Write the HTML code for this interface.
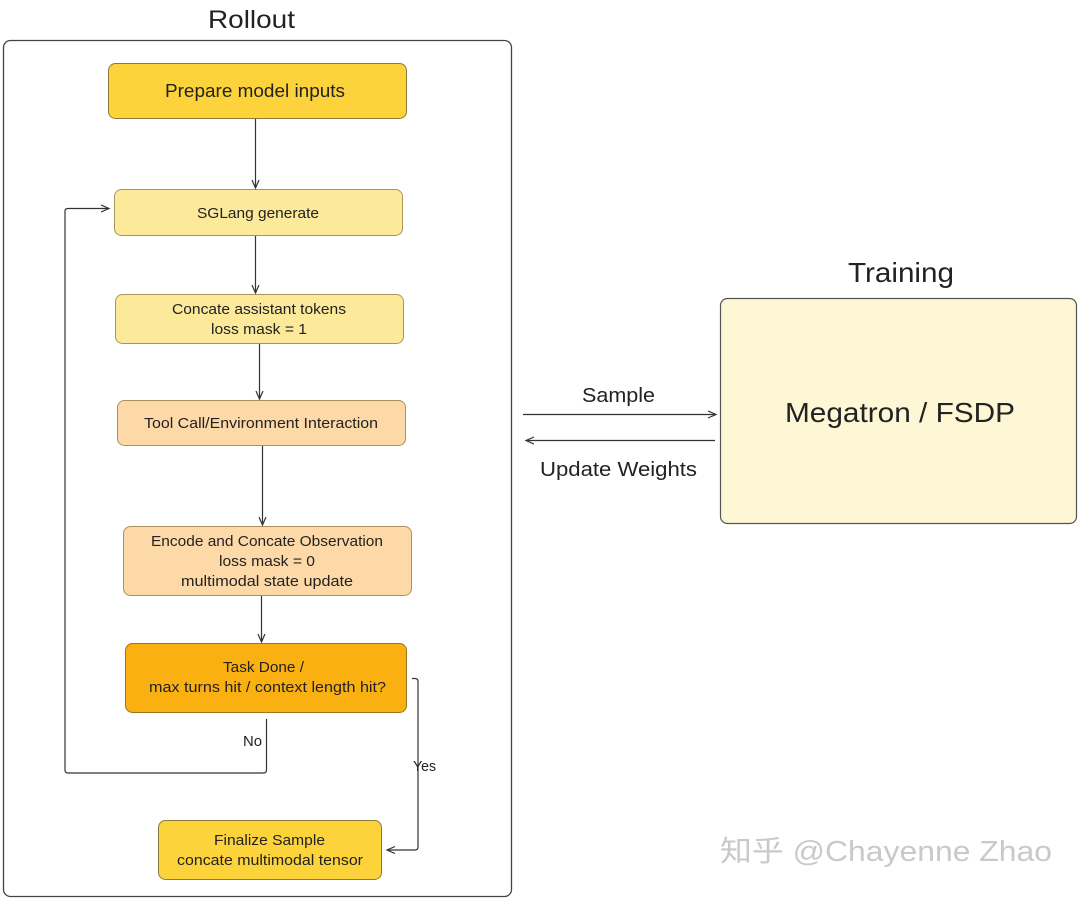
<!DOCTYPE html>
<html>
<head>
<meta charset="utf-8">
<style>
html,body{margin:0;padding:0;background:#fff;}
svg{display:block;}
text{font-family:"Liberation Sans","Noto Sans CJK SC",sans-serif;fill:#222;}
</style>
</head>
<body>
<svg width="1080" height="900" viewBox="0 0 1080 900" xmlns="http://www.w3.org/2000/svg">
<defs>
<marker id="ah" markerWidth="10" markerHeight="10" refX="8" refY="4" orient="auto" markerUnits="userSpaceOnUse">
<path d="M0,0.5 L8,4 L0,7.5" fill="none" stroke="#333" stroke-width="1.2"/>
</marker>
</defs>

<!-- Rollout -->
<text x="208" y="28" font-size="25" textLength="87" lengthAdjust="spacingAndGlyphs">Rollout</text>
<rect x="3.5" y="40.5" width="508" height="856" rx="7" fill="none" stroke="#444" stroke-width="1.3"/>

<!-- boxes -->
<rect x="108.5" y="63.5" width="298" height="55" rx="7" fill="#fdd33b" stroke="#8c7a3a" stroke-width="1"/>
<text x="165" y="97" font-size="18" textLength="180" lengthAdjust="spacingAndGlyphs">Prepare model inputs</text>

<rect x="114.5" y="189.5" width="288" height="46" rx="7" fill="#fde99a" stroke="#a8955a" stroke-width="1"/>
<text x="197" y="218" font-size="15" textLength="122" lengthAdjust="spacingAndGlyphs">SGLang generate</text>

<rect x="115.5" y="294.5" width="288" height="49" rx="7" fill="#fde99a" stroke="#a8955a" stroke-width="1"/>
<text x="172" y="314" font-size="15" textLength="174" lengthAdjust="spacingAndGlyphs">Concate assistant tokens</text>
<text x="211" y="334" font-size="15" textLength="96" lengthAdjust="spacingAndGlyphs">loss mask = 1</text>

<rect x="117.5" y="400.5" width="288" height="45" rx="7" fill="#fdd9a8" stroke="#a8915f" stroke-width="1"/>
<text x="144" y="428" font-size="15" textLength="234" lengthAdjust="spacingAndGlyphs">Tool Call/Environment Interaction</text>

<rect x="123.5" y="526.5" width="288" height="69" rx="7" fill="#fdd9a8" stroke="#a8915f" stroke-width="1"/>
<text x="151" y="546" font-size="15" textLength="232" lengthAdjust="spacingAndGlyphs">Encode and Concate Observation</text>
<text x="219" y="566" font-size="15" textLength="96" lengthAdjust="spacingAndGlyphs">loss mask = 0</text>
<text x="181" y="586" font-size="15" textLength="172" lengthAdjust="spacingAndGlyphs">multimodal state update</text>

<rect x="125.5" y="643.5" width="281" height="69" rx="7" fill="#fab010" stroke="#9a7420" stroke-width="1"/>
<text x="223" y="672" font-size="15" textLength="81" lengthAdjust="spacingAndGlyphs">Task Done /</text>
<text x="149" y="692" font-size="15" textLength="237" lengthAdjust="spacingAndGlyphs">max turns hit / context length hit?</text>

<rect x="158.5" y="820.5" width="223" height="59" rx="7" fill="#fdd33b" stroke="#8c7a3a" stroke-width="1"/>
<text x="214" y="845" font-size="15" textLength="111" lengthAdjust="spacingAndGlyphs">Finalize Sample</text>
<text x="177" y="865" font-size="15" textLength="186" lengthAdjust="spacingAndGlyphs">concate multimodal tensor</text>

<!-- connectors -->
<g stroke="#333" stroke-width="1.2" fill="none">
<line x1="255.5" y1="119" x2="255.5" y2="188" marker-end="url(#ah)"/>
<line x1="255.5" y1="236" x2="255.5" y2="293" marker-end="url(#ah)"/>
<line x1="259.5" y1="344" x2="259.5" y2="399" marker-end="url(#ah)"/>
<line x1="262.5" y1="446" x2="262.5" y2="525" marker-end="url(#ah)"/>
<line x1="261.5" y1="596" x2="261.5" y2="642" marker-end="url(#ah)"/>
<path d="M266.5,719 V770 Q266.5,773 263.5,773 H68 Q65,773 65,770 V211.5 Q65,208.5 68,208.5 H109" marker-end="url(#ah)"/>
<path d="M412,678.5 H415 Q418,678.5 418,681.5 V847 Q418,850 415,850 H387" marker-end="url(#ah)"/>
<line x1="523" y1="414.5" x2="716" y2="414.5" marker-end="url(#ah)"/>
<line x1="715" y1="440.5" x2="526" y2="440.5" marker-end="url(#ah)"/>
</g>
<text x="243" y="746" font-size="15" textLength="19" lengthAdjust="spacingAndGlyphs">No</text>
<text x="413" y="771" font-size="15" textLength="23" lengthAdjust="spacingAndGlyphs">Yes</text>

<!-- Training -->
<text x="848" y="282" font-size="28" textLength="106" lengthAdjust="spacingAndGlyphs">Training</text>
<rect x="720.5" y="298.5" width="356" height="225" rx="7" fill="#fdf7d6" stroke="#555" stroke-width="1.2"/>
<text x="785" y="422" font-size="28" textLength="230" lengthAdjust="spacingAndGlyphs">Megatron / FSDP</text>

<text x="582" y="402" font-size="20" textLength="73" lengthAdjust="spacingAndGlyphs">Sample</text>
<text x="540" y="476" font-size="20" textLength="157" lengthAdjust="spacingAndGlyphs">Update Weights</text>

<!-- watermark -->
<text x="720" y="861" font-size="29" textLength="332" lengthAdjust="spacingAndGlyphs" style="fill:#c9c9c9;">知乎 @Chayenne Zhao</text>
</svg>
</body>
</html>
